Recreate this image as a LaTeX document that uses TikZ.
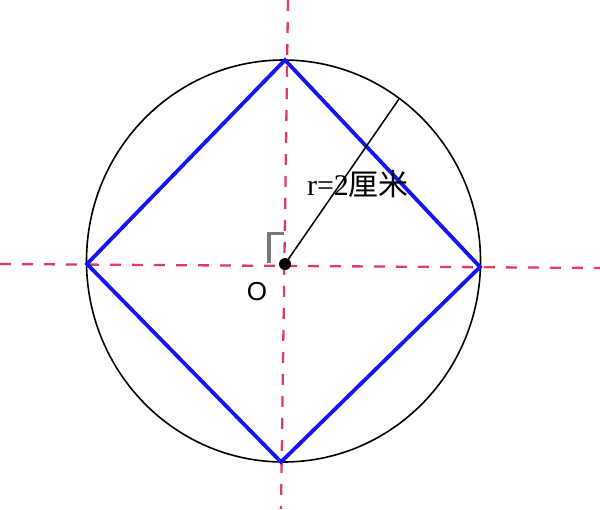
\documentclass[tikz,border=0pt]{standalone}
\usepackage{fontspec}
\setmainfont{Liberation Serif}
\newfontfamily\cjk{Noto Sans CJK SC}
\newfontfamily\lsans{Liberation Sans}
\begin{document}
\begin{tikzpicture}[x=1pt,y=-1pt,
  axisline/.style={draw={rgb,255:red,224;green,60;blue,100},line width=2.3pt,dash pattern=on 11pt off 11pt},
  sqline/.style={draw={rgb,255:red,20;green,20;blue,245},line width=3.8pt,line join=miter},
  circline/.style={draw=black,line width=1.6pt},
  radline/.style={draw=black,line width=1.5pt},
  lbl/.style={inner sep=0pt,anchor=center}]
\useasboundingbox (0,0) rectangle (600,509);
\coordinate (O) at (285,264);
\coordinate (T) at (285,60);
\coordinate (R) at (480,267);
\coordinate (B) at (281,462);
\coordinate (L) at (87,264);
\coordinate (vt) at (288,0);
\coordinate (vb) at (281,509);
\coordinate (hl) at (0,264);
\coordinate (hr) at (600,268);
\coordinate (P) at (399,99);
\draw[axisline] (vt) -- (vb);
\draw[axisline] (hl) -- (hr);
\draw[circline] (283.5,261) ellipse [x radius=197,y radius=201];
\draw[sqline] (T) -- (R) -- (B) -- (L) -- cycle;
\draw[radline] (O) -- (P);
\draw[draw={rgb,255:red,120;green,120;blue,120},line width=3.2pt] (269,263) -- (269,233.5) -- (284,233.5);
\fill (O) circle (6);
\node[lbl] (rl) at (358,184) {\fontsize{30}{30}\selectfont r=2{\cjk 厘米}};
\node[lbl] (ol) at (257,292) {\lsans\fontsize{26}{26}\selectfont O};
\end{tikzpicture}
\end{document}
